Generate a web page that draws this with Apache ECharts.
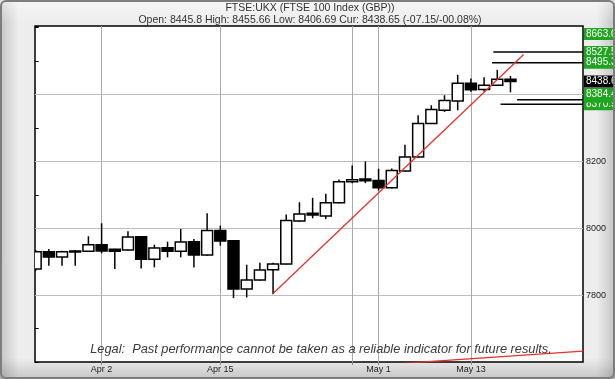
<!DOCTYPE html>
<html><head><meta charset="utf-8">
<script src="https://cdn.jsdelivr.net/npm/echarts@6/dist/echarts.min.js"></script>
<style>html,body{margin:0;padding:0;background:#ececec}#c{width:615px;height:379px}</style>
</head><body><div id="c"></div>
<script>
// ---------- data ----------
const dates = ['Mar 22','Mar 25','Mar 26','Mar 27','Mar 28','Apr 2','Apr 3','Apr 4','Apr 5','Apr 8',
  'Apr 9','Apr 10','Apr 11','Apr 12','Apr 15','Apr 16','Apr 17','Apr 18','Apr 19','Apr 22',
  'Apr 23','Apr 24','Apr 25','Apr 26','Apr 29','Apr 30','May 1','May 2','May 3','May 7',
  'May 8','May 9','May 10','May 13','May 14','May 15','May 16'];
const opens  = [7878,7930,7914,7930,7931,7951,7937,7935,7975,7907,7942,7931,7960,7920,7993,7963,7818,7845,7876,7893,
  8022,8045,8037,8076,8139,8147,8143,8121,8171,8213,8313,8353,8381,8434,8415,8428,8445.8];
const closes = [7930,7914,7930,7932,7951,7932,7931,7974,7907,7941,7931,7959,7920,7993,7962,7818,7845,7875,7893,8023,
  8043,8040,8076,8139,8145,8142,8121,8173,8213,8313,8355,8382,8434,8414,8428,8445.8,8438.65];
const lows   = [7872,7888,7888,7888,7929,7925,7878,7933,7880,7883,7913,7913,7883,7918,7948,7791,7793,7843,7803,7892,
  8019,8030,8028,8075,8135,8135,8113,8119,8170,8212,8312,8348,8353,8408,8409,8426,8406.69];
const highs  = [7935,7938,7933,7935,7976,8015,7939,7991,7976,7951,7960,7998,7968,8045,8008,7964,7891,7897,7897,8041,
  8078,8091,8103,8146,8188,8200,8178,8179,8250,8338,8368,8398,8459,8448,8452,8474,8455.66];

const gridDates  = ['Apr 2','Apr 15','Apr 29','May 1','May 13'];
const labelDates = ['Apr 2','Apr 15','May 1','May 13'];
const yGridValues  = [7800,8000,8200,8400];
const yTickLabels  = [7800,8000,8200,8400];

// trend lines: [slot index, price]
const trendUp   = [[18,7805],[37,8520]];
const trendLow  = [[20,7575],[41.5,7632.5]];

// target levels and the slot each one starts from
const targetLevels = [8527.5, 8495.3, 8384.4, 8370.9];
const targetFrom   = [34.7, 34.6, 36.5, 35.25];

// right side price tags (drawn in this order)
const tagValues = [8663.0, 8527.5, 8495.3, 8370.9, 8384.4];
const currentPrice = 8438.65;

const titleText = 'FTSE:UKX (FTSE 100 Index (GBP))';
const subText = 'Open: 8445.8 High: 8455.66 Low: 8406.69 Cur: 8438.65 (-07.15/-00.08%)';
const legalText = 'Legal:  Past performance cannot be taken as a reliable indicator for future results.';

// ---------- layout ----------
const X_MIN = -0.05, X_MAX = 41.5, Y_MIN = 7600, Y_MAX = 8605;
const GRID = {left:35, right:32, top:26, bottom:17};
const GREEN = '#1fa51f';
const FONT = '"Liberation Sans", Arial, sans-serif';
const tagNudge = {'8384.4': {dy:-6, extra:3}};

const chart = echarts.init(document.getElementById('c'), null, {renderer:'canvas'});

const candleData = dates.map((d,i)=>[i, opens[i], closes[i], lows[i], highs[i]]);
const gridIdx = gridDates.map(d=>dates.indexOf(d));
const labelIdx = labelDates.map(d=>dates.indexOf(d));

const option = {
  animation:false,
  grid:{left:GRID.left, right:GRID.right, top:GRID.top, bottom:GRID.bottom, show:true,
    backgroundColor:'#fff', borderColor:'#000', borderWidth:1.5},
  xAxis:{type:'value', min:X_MIN, max:X_MAX,
    axisLine:{show:false},
    axisTick:{show:true, customValues:gridIdx, length:3, lineStyle:{color:'#888'}},
    axisLabel:{customValues:labelIdx, formatter:v=>dates[Math.round(v)]||'', fontSize:9,
      color:'#222', margin:3, fontFamily:FONT},
    splitLine:{show:false}},
  yAxis:[
    {type:'value', position:'right', min:Y_MIN, max:Y_MAX, interval:100,
     axisLine:{show:false},
     axisTick:{show:true, length:3, lineStyle:{color:'#000'}},
     axisLabel:{customValues:yTickLabels, formatter:v=>String(v), fontSize:9, color:'#222', margin:3, fontFamily:FONT},
     splitLine:{show:false}},
    {type:'value', position:'left', min:Y_MIN, max:Y_MAX, interval:100,
     axisLine:{show:false},
     axisTick:{show:true, inside:true, length:3, lineStyle:{color:'#000'}},
     axisLabel:{show:false}, splitLine:{show:false}}
  ],
  series:[
    {type:'line', name:'grid', data:[], z:1, silent:true,
     markLine:{silent:true, symbol:['none','none'], z:1, animation:false,
       label:{show:false},
       data:[
         ...yGridValues.map(v=>({yAxis:v, lineStyle:{color:'#bdbdbd', width:1, type:'solid'}})),
         ...gridIdx.map(i=>({xAxis:i, lineStyle:{color:'#a9a9a9', width:1, type:'solid'}}))
       ]}},
    {type:'custom', name:'UKX', z:2, clip:true, data:candleData,
     encode:{x:0, y:[1,2,3,4]},
     renderItem:function(params, api){
       const x=api.value(0), o=api.value(1), c=api.value(2), l=api.value(3), h=api.value(4);
       const pO=api.coord([x,o]), pC=api.coord([x,c]), pL=api.coord([x,l]), pH=api.coord([x,h]);
       const w=api.size([1,0])[0]*0.83;
       const top=Math.min(pO[1],pC[1]), bot=Math.max(pO[1],pC[1]);
       const up=c>=o;
       return {type:'group', children:[
         {type:'line', shape:{x1:pH[0],y1:pH[1],x2:pL[0],y2:pL[1]}, style:{stroke:'#000', lineWidth:1.5}},
         {type:'rect', shape:{x:pO[0]-w/2, y:top, width:w, height:Math.max(bot-top,1)},
          style:{fill:up?'#fff':'#000', stroke:'#000', lineWidth:1.5}}
       ]};
     }},
    {type:'line', name:'trendUp', data:trendUp, z:4, symbol:'none', silent:true,
     lineStyle:{color:'#e5322b', width:1.3}},
    {type:'line', name:'trendLow', data:trendLow, z:4, symbol:'none', silent:true,
     lineStyle:{color:'#e5322b', width:1.3}},
    ...targetLevels.map((lv,k)=>({type:'line', name:'target'+k, z:3, symbol:'none', silent:true,
      data:[[targetFrom[k], lv],[X_MAX, lv]], lineStyle:{color:'#000', width:1.5}}))
  ]
};
chart.setOption(option);

// ---------- graphics (frame, titles, price tags) ----------
const W=615, H=379;
const g=[];
g.push({type:'rect', z:-100, silent:true, shape:{x:0,y:0,width:W,height:H},
  style:{fill:new echarts.graphic.LinearGradient(0,0,1,0,[
    {offset:0,color:'#c4c4c4'},{offset:0.03,color:'#ededed'},{offset:0.97,color:'#ededed'},{offset:1,color:'#c4c4c4'}])}});
g.push({type:'rect', z:-99, silent:true, shape:{x:0,y:0,width:W,height:22},
  style:{fill:new echarts.graphic.LinearGradient(0,0,0,1,[
    {offset:0,color:'rgba(255,255,255,0.5)'},{offset:1,color:'rgba(255,255,255,0)'}])}});
g.push({type:'rect', z:-99, silent:true, shape:{x:0,y:358,width:W,height:H-358},
  style:{fill:new echarts.graphic.LinearGradient(0,0,0,1,[
    {offset:0,color:'rgba(0,0,0,0)'},{offset:1,color:'rgba(0,0,0,0.17)'}])}});

g.push({type:'text', z:20, silent:true, x:310, y:8,
  style:{text:titleText, fill:'#333', font:'10.5px '+FONT, align:'center', verticalAlign:'middle',
    textAlign:'center', textVerticalAlign:'middle'}});
g.push({type:'text', z:20, silent:true, x:310, y:20,
  style:{text:subText, fill:'#333', font:'10.5px '+FONT, align:'center', verticalAlign:'middle',
    textAlign:'center', textVerticalAlign:'middle'}});
g.push({type:'text', z:20, silent:true, x:321, y:349,
  style:{text:legalText, fill:'#3a3a3a', font:'italic 12.8px '+FONT, align:'center', verticalAlign:'middle',
    textAlign:'center', textVerticalAlign:'middle'}});

const plotRight = W - GRID.right;
let tagZ = 30;
function tag(val, bg, adj){
  let cy = chart.convertToPixel({yAxisIndex:0}, val);
  cy = Math.max(cy, GRID.top + 8) + (adj ? adj.dy : 0);
  const extra = adj ? adj.extra : 0;
  const txt = (val===currentPrice) ? String(val) : val.toFixed(1);
  g.push({type:'rect', z:tagZ++, silent:true, shape:{x:plotRight+1, y:cy-6, width:40, height:12+extra},
    style:{fill:bg}});
  g.push({type:'text', z:tagZ++, silent:true, x:plotRight+3, y:cy,
    style:{text:txt, fill:'#fff', font:'10px '+FONT, align:'left', verticalAlign:'middle',
      textAlign:'left', textVerticalAlign:'middle'}});
}
tagValues.forEach(v=>tag(v, GREEN, tagNudge[v.toFixed(1)]));
tag(currentPrice, '#000', null);

g.push({type:'rect', z:100, silent:true, shape:{x:1,y:1,width:W-2,height:H-2,r:5},
  style:{fill:null, stroke:'#7d7d7d', lineWidth:2}});

chart.setOption({graphic:g});
</script></body></html>
